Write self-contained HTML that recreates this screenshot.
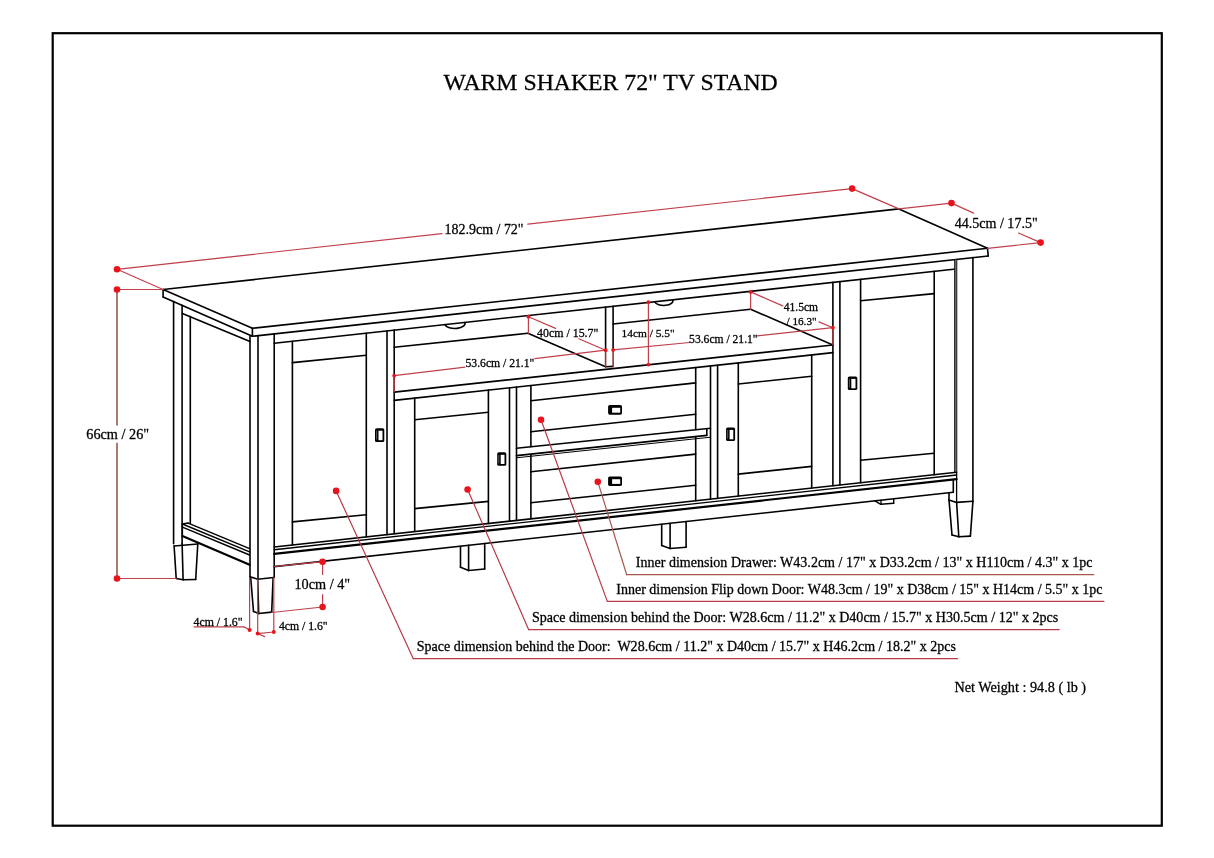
<!DOCTYPE html><html><head><meta charset="utf-8"><style>html,body{margin:0;padding:0;background:#fff;width:1214px;height:858px;overflow:hidden}svg{display:block;will-change:transform}text{font-family:"Liberation Serif",serif;fill:#000;stroke:#000;stroke-width:0.28px;white-space:pre}</style></head><body>
<svg width="1214" height="858" viewBox="0 0 1214 858">
<rect x="0" y="0" width="1214" height="858" fill="#fff"/>
<rect x="52.7" y="33.2" width="1109.1" height="792.5" fill="none" stroke="#000" stroke-width="2.2"/>
<g stroke="#000" stroke-width="1.6" stroke-linecap="round" fill="none">
<line x1="163.1" y1="289.5" x2="898.9" y2="208.9"/>
<line x1="163.1" y1="289.5" x2="252.4" y2="328.3"/>
<line x1="898.9" y1="208.9" x2="987.5" y2="248.3"/>
<line x1="252.4" y1="328.3" x2="987.5" y2="248.3"/>
<line x1="163.1" y1="289.5" x2="163.1" y2="297"/>
<line x1="163.1" y1="297" x2="252.4" y2="336.29"/>
<line x1="252.4" y1="328.3" x2="252.4" y2="336.29"/>
<line x1="252.4" y1="336.29" x2="988.2" y2="255.94"/>
<line x1="987.5" y1="248.3" x2="988.2" y2="255.94"/>
<line x1="173.6" y1="301.6" x2="173.6" y2="543.8"/>
<line x1="182.1" y1="305.4" x2="182.1" y2="543.8"/>
<line x1="182.4" y1="313.4" x2="250" y2="341.6"/>
<line x1="190.3" y1="316.5" x2="190.3" y2="523.2"/>
<line x1="182.4" y1="524" x2="188.2" y2="523.1" stroke-width="1.5"/>
<line x1="188.2" y1="523.1" x2="249.6" y2="548.58" stroke-width="1.5"/>
<line x1="182.4" y1="524" x2="249.6" y2="551.88" stroke-width="1.4"/>
<line x1="182.4" y1="527.1" x2="249.6" y2="554.98" stroke-width="1.4"/>
<line x1="182.4" y1="536.1" x2="249.6" y2="564.8" stroke-width="2.2"/>
<line x1="182.4" y1="524" x2="182.4" y2="536.1" stroke-width="1.4"/>
<line x1="174.1" y1="546" x2="197.8" y2="544"/>
<line x1="174.1" y1="546" x2="176.2" y2="578.5"/>
<line x1="182.1" y1="543.8" x2="183.1" y2="579.5"/>
<line x1="197.8" y1="543.8" x2="195.7" y2="579.5"/>
<line x1="176.2" y1="578.5" x2="183.1" y2="579.8"/>
<line x1="183.1" y1="579.8" x2="195.7" y2="579.5"/>
<line x1="250" y1="336" x2="250" y2="577"/>
<line x1="258" y1="335.5" x2="258" y2="579"/>
<line x1="274.2" y1="334.1" x2="274.2" y2="577.5"/>
<line x1="250" y1="576.7" x2="257.7" y2="579.2"/>
<line x1="257.7" y1="579.2" x2="273.6" y2="577.5"/>
<line x1="250.7" y1="577.8" x2="253.5" y2="611.4"/>
<line x1="257.7" y1="579.2" x2="258.7" y2="613.5"/>
<line x1="273.1" y1="578" x2="271.7" y2="612.1"/>
<line x1="253.5" y1="611.4" x2="258.7" y2="613.5"/>
<line x1="258.7" y1="613.5" x2="271.7" y2="612.1"/>
<line x1="274.2" y1="343.2" x2="955.8" y2="269.04"/>
<line x1="292.4" y1="341.22" x2="292.4" y2="544.94"/>
<line x1="366.3" y1="333.18" x2="366.3" y2="536.85"/>
<line x1="387" y1="330.93" x2="387" y2="534.58"/>
<line x1="394.2" y1="330.14" x2="394.2" y2="533.79"/>
<line x1="292.4" y1="362.6" x2="366.3" y2="355.2"/>
<line x1="292.4" y1="521.9" x2="366.3" y2="514.7"/>
<line x1="394.2" y1="347.2" x2="527.9" y2="333.3"/>
<line x1="527.9" y1="333.3" x2="605.6" y2="366.7"/>
<line x1="605.6" y1="307.14" x2="605.6" y2="350.2"/>
<line x1="613.1" y1="306.33" x2="613.1" y2="349.9"/>
<line x1="605.6" y1="366.8" x2="613.1" y2="366.4"/>
<line x1="613.1" y1="324" x2="750.6" y2="309.2"/>
<line x1="750.6" y1="309.2" x2="832.9" y2="345"/>
<line x1="832.9" y1="282.41" x2="832.9" y2="485.75"/>
<line x1="839.9" y1="281.65" x2="839.9" y2="484.99"/>
<line x1="394.2" y1="392.1" x2="832.9" y2="344.98"/>
<line x1="394.2" y1="400.37" x2="832.9" y2="352.64"/>
<line x1="414.7" y1="398.14" x2="414.7" y2="531.55"/>
<line x1="488.4" y1="390.12" x2="488.4" y2="523.48"/>
<line x1="509.5" y1="387.83" x2="509.5" y2="521.16"/>
<line x1="516.5" y1="387.06" x2="516.5" y2="520.4"/>
<line x1="710.5" y1="365.96" x2="710.5" y2="499.16"/>
<line x1="717.6" y1="365.19" x2="717.6" y2="498.38"/>
<line x1="738.3" y1="362.93" x2="738.3" y2="496.11"/>
<line x1="811.7" y1="354.95" x2="811.7" y2="488.07"/>
<line x1="530.9" y1="385.5" x2="530.9" y2="446.8"/>
<line x1="530.9" y1="455.2" x2="530.9" y2="518.82"/>
<line x1="695.7" y1="367.57" x2="695.7" y2="429.6"/>
<line x1="695.7" y1="437.5" x2="695.7" y2="500.78"/>
<line x1="414.7" y1="419.8" x2="488.4" y2="412.3"/>
<line x1="414.7" y1="508.6" x2="488.4" y2="501.4"/>
<line x1="530.9" y1="400.8" x2="695.7" y2="382.9"/>
<line x1="530.9" y1="431.7" x2="695.7" y2="414.3"/>
<line x1="516.5" y1="448.3" x2="710.5" y2="428.3"/>
<line x1="516.5" y1="455.6" x2="706.8" y2="435.4"/>
<line x1="516.5" y1="457.8" x2="710.5" y2="437.2" stroke-width="1"/>
<line x1="706.8" y1="428.7" x2="706.8" y2="435.4"/>
<line x1="530.9" y1="471.8" x2="695.7" y2="454.1"/>
<line x1="530.9" y1="502.7" x2="695.7" y2="485.2"/>
<line x1="738.3" y1="384" x2="811.7" y2="376.3"/>
<line x1="738.3" y1="474.1" x2="811.7" y2="466.4"/>
<line x1="860.6" y1="279.4" x2="860.6" y2="482.72"/>
<line x1="934.2" y1="271.39" x2="934.2" y2="474.66"/>
<line x1="860.6" y1="300.8" x2="934.2" y2="293.6"/>
<line x1="860.6" y1="460.2" x2="934.2" y2="453.2"/>
<line x1="954.8" y1="259.59" x2="954.8" y2="472.4" stroke-width="1.3"/>
<line x1="956.6" y1="259.39" x2="956.6" y2="502.4" stroke-width="1.3"/>
<rect x="954.8" y="259.59" width="1.8" height="212.82" fill="#666" stroke="none"/>
<line x1="972.9" y1="257.61" x2="972.9" y2="501.4"/>
<line x1="949" y1="492.74" x2="949" y2="500"/>
<line x1="949" y1="500" x2="956.6" y2="502.4"/>
<line x1="956.6" y1="502.4" x2="972.9" y2="501.3"/>
<line x1="949" y1="500" x2="952" y2="534.9"/>
<line x1="956.6" y1="502.4" x2="958.8" y2="536.7"/>
<line x1="972.9" y1="501.5" x2="970.4" y2="536.1"/>
<line x1="952" y1="534.9" x2="958.8" y2="536.7"/>
<line x1="958.8" y1="536.7" x2="970.4" y2="536.1"/>
<line x1="274.2" y1="546.93" x2="956.6" y2="472.21"/>
<line x1="274.2" y1="549.73" x2="956.6" y2="475.01" stroke-width="1.3"/>
<line x1="274.2" y1="553.93" x2="956.6" y2="479.21" stroke-width="2.2"/>
<line x1="274.2" y1="566.63" x2="953.3" y2="492.27"/>
<line x1="953.3" y1="480.07" x2="953.3" y2="492.27"/>
<line x1="460.5" y1="546.23" x2="460.5" y2="567.3"/>
<line x1="468.6" y1="545.34" x2="468.6" y2="570.5"/>
<line x1="484.7" y1="543.58" x2="484.7" y2="569"/>
<line x1="460.5" y1="567.3" x2="468.6" y2="570.5"/>
<line x1="468.6" y1="570.5" x2="484.7" y2="569"/>
<line x1="661.7" y1="524.2" x2="661.7" y2="545.5"/>
<line x1="670.1" y1="523.28" x2="670.1" y2="548.5"/>
<line x1="686.1" y1="521.53" x2="686.1" y2="547.3"/>
<line x1="661.7" y1="545.5" x2="670.1" y2="548.5"/>
<line x1="670.1" y1="548.5" x2="686.1" y2="547.3"/>
<line x1="874.9" y1="500.85" x2="880.8" y2="504.3" stroke-width="1.4"/>
<line x1="880.8" y1="504.3" x2="893.7" y2="503.2" stroke-width="1.4"/>
<line x1="893.7" y1="503.2" x2="893.7" y2="498.79" stroke-width="1.4"/>
<line x1="881" y1="500.19" x2="881" y2="504.2" stroke-width="1.3"/>
<path d="M444.8 324.64 A10 4.8 0 0 0 464.8 322.46"/>
<path d="M654.7 301.8 A9 4.5 0 0 0 672.7 299.84"/>
</g>
<g>
<rect x="608.1" y="405" width="13.9" height="9.7" rx="1.6" fill="#000"/>
<rect x="612.1" y="407.8" width="8.1" height="4.9" fill="#fff"/>
<rect x="608.1" y="476.4" width="13.9" height="9.5" rx="1.6" fill="#000"/>
<rect x="612.1" y="479.2" width="8.1" height="4.7" fill="#fff"/>
<rect x="375" y="428.2" width="9.3" height="13.8" rx="1.6" fill="#000"/>
<rect x="378.5" y="430.7" width="4" height="9.5" fill="#fff"/>
<line x1="376.6" y1="430.7" x2="376.6" y2="439.5" stroke="#999" stroke-width="0.6"/>
<rect x="497.2" y="452.3" width="9.1" height="13.5" rx="1.6" fill="#000"/>
<rect x="500.7" y="454.8" width="3.8" height="9.2" fill="#fff"/>
<line x1="498.8" y1="454.8" x2="498.8" y2="463.3" stroke="#999" stroke-width="0.6"/>
<rect x="726.1" y="427.4" width="9" height="13.7" rx="1.6" fill="#000"/>
<rect x="729.6" y="429.9" width="3.7" height="9.4" fill="#fff"/>
<line x1="727.7" y1="429.9" x2="727.7" y2="438.6" stroke="#999" stroke-width="0.6"/>
<rect x="847.8" y="376.4" width="9.5" height="13.7" rx="1.6" fill="#000"/>
<rect x="851.3" y="378.9" width="4.2" height="9.4" fill="#fff"/>
<line x1="849.4" y1="378.9" x2="849.4" y2="387.6" stroke="#999" stroke-width="0.6"/>
</g>
<g fill="none" stroke-linecap="round">
<line x1="117" y1="269.3" x2="441.9" y2="233.6" stroke="#c0404c" stroke-width="1.2"/>
<line x1="527.8" y1="224.1" x2="852.1" y2="188.6" stroke="#c0404c" stroke-width="1.2"/>
<line x1="117" y1="269.3" x2="163.1" y2="289.5" stroke="#c0404c" stroke-width="1.2"/>
<line x1="117" y1="289.5" x2="163.1" y2="289.5" stroke="#c0404c" stroke-width="1.2"/>
<line x1="117" y1="289.5" x2="117" y2="424.8" stroke="#a87a6e" stroke-width="2"/>
<line x1="117" y1="443.6" x2="117" y2="578.5" stroke="#a87a6e" stroke-width="2"/>
<line x1="117" y1="578.5" x2="176.2" y2="578.5" stroke="#c0404c" stroke-width="1.2"/>
<line x1="852.1" y1="188.6" x2="898.9" y2="208.9" stroke="#c0404c" stroke-width="1.2"/>
<line x1="898.9" y1="208.9" x2="951.5" y2="203.1" stroke="#c0404c" stroke-width="1.2"/>
<line x1="951.5" y1="203.1" x2="973.7" y2="213.1" stroke="#c0404c" stroke-width="1.2"/>
<line x1="1018.5" y1="233" x2="1040.6" y2="242.6" stroke="#c0404c" stroke-width="1.2"/>
<line x1="987.5" y1="248.3" x2="1040.6" y2="242.6" stroke="#c0404c" stroke-width="1.2"/>
<line x1="394.2" y1="375.7" x2="465" y2="367.1" stroke="#c0404c" stroke-width="1.2"/>
<line x1="534.9" y1="358.6" x2="605.6" y2="350.2" stroke="#c0404c" stroke-width="1.2"/>
<line x1="394.2" y1="375.7" x2="394.2" y2="392" stroke="#c0404c" stroke-width="1.2"/>
<line x1="528.4" y1="316.7" x2="528.4" y2="333.3" stroke="#c0404c" stroke-width="1.2"/>
<line x1="528.4" y1="316.7" x2="555.6" y2="328.4" stroke="#c0404c" stroke-width="1.2"/>
<line x1="578.8" y1="338.7" x2="605.6" y2="350.2" stroke="#c0404c" stroke-width="1.2"/>
<line x1="605.6" y1="350.2" x2="605.6" y2="366.6" stroke="#8a3a3a" stroke-width="1.6"/>
<line x1="613.1" y1="349.9" x2="613.1" y2="366.4" stroke="#8a3a3a" stroke-width="1.6"/>
<line x1="648.4" y1="302.2" x2="648.4" y2="364.6" stroke="#c0404c" stroke-width="1.2"/>
<line x1="613.1" y1="349.9" x2="689.7" y2="342.5" stroke="#c0404c" stroke-width="1.2"/>
<line x1="757.2" y1="335.9" x2="832.9" y2="327.7" stroke="#c0404c" stroke-width="1.2"/>
<line x1="750.6" y1="291.9" x2="750.6" y2="309.2" stroke="#c0404c" stroke-width="1.2"/>
<line x1="750.6" y1="291.9" x2="782.7" y2="305.9" stroke="#c0404c" stroke-width="1.2"/>
<line x1="819" y1="321.9" x2="832.9" y2="327.7" stroke="#c0404c" stroke-width="1.2"/>
<line x1="832.9" y1="327.7" x2="832.9" y2="345" stroke="#c0404c" stroke-width="1.2"/>
<line x1="322.6" y1="561.7" x2="322.6" y2="574.5" stroke="#c0404c" stroke-width="1.2"/>
<line x1="322.6" y1="594.6" x2="322.6" y2="607" stroke="#c0404c" stroke-width="1.2"/>
<line x1="274.2" y1="566.5" x2="322.6" y2="561.7" stroke="#c0404c" stroke-width="1.2"/>
<line x1="271.7" y1="612.5" x2="322.6" y2="607" stroke="#c0404c" stroke-width="1.2"/>
<line x1="249.6" y1="577.8" x2="249.6" y2="629.9" stroke="#c0404c" stroke-width="1.2"/>
<line x1="257.7" y1="579.2" x2="257.7" y2="633.6" stroke="#c0404c" stroke-width="1.2"/>
<line x1="273.8" y1="577.5" x2="273.8" y2="632" stroke="#c0404c" stroke-width="1.2"/>
<line x1="257.7" y1="633.6" x2="273.8" y2="632" stroke="#c0404c" stroke-width="1.2"/>
<line x1="258" y1="633.8" x2="264.7" y2="636.6" stroke="#c0404c" stroke-width="1.2"/>
<line x1="249.6" y1="629.9" x2="243.7" y2="626.8" stroke="#c0404c" stroke-width="1.2"/>
<line x1="243.7" y1="626.8" x2="194" y2="626.8" stroke="#c0404c" stroke-width="1.2"/>
<line x1="336.1" y1="490.9" x2="413.2" y2="658.6" stroke="#b83a4a" stroke-width="1.2"/>
<line x1="413.2" y1="658.6" x2="957.6" y2="658.6" stroke="#b83a4a" stroke-width="1.2"/>
<line x1="467.6" y1="489.5" x2="528.7" y2="629.7" stroke="#b83a4a" stroke-width="1.2"/>
<line x1="528.7" y1="629.7" x2="1059.1" y2="629.7" stroke="#b83a4a" stroke-width="1.2"/>
<line x1="541" y1="419.8" x2="607.3" y2="601.4" stroke="#b83a4a" stroke-width="1.2"/>
<line x1="607.3" y1="601.4" x2="1103.9" y2="601.4" stroke="#b83a4a" stroke-width="1.2"/>
<line x1="597.8" y1="481.7" x2="626.7" y2="574.7" stroke="#a8584a" stroke-width="1.2"/>
<line x1="626.7" y1="574.7" x2="1093.8" y2="574.7" stroke="#a8584a" stroke-width="1.2"/>
</g>
<g fill="#e8141c">
<circle cx="117" cy="269.3" r="3.3"/>
<circle cx="117" cy="289.5" r="3.3"/>
<circle cx="117" cy="578.5" r="3.3"/>
<circle cx="852.1" cy="188.6" r="3.3"/>
<circle cx="951.5" cy="203.1" r="3.3"/>
<circle cx="1040.6" cy="242.6" r="3.3"/>
<circle cx="322.6" cy="561.7" r="3.3"/>
<circle cx="322.6" cy="607" r="3.3"/>
<circle cx="336.1" cy="490.9" r="3.3"/>
<circle cx="467.6" cy="489.5" r="3.3"/>
<circle cx="541" cy="419.8" r="3.3"/>
<circle cx="597.8" cy="481.7" r="3.3"/>
<circle cx="249.6" cy="629.9" r="2"/>
<circle cx="257.7" cy="633.6" r="2"/>
<circle cx="273.8" cy="632" r="2"/>
<circle cx="394.2" cy="375.7" r="1.9"/>
<circle cx="528.4" cy="316.7" r="1.9"/>
<circle cx="605.6" cy="350.2" r="1.9"/>
<circle cx="613.1" cy="349.9" r="1.9"/>
<circle cx="648.4" cy="302.2" r="1.9"/>
<circle cx="648.4" cy="364.6" r="1.9"/>
<circle cx="750.6" cy="291.9" r="1.9"/>
<circle cx="832.9" cy="327.7" r="1.9"/>
</g>
<text x="443.6" y="89.7" font-size="23.76">WARM SHAKER 72&quot; TV STAND</text>
<text x="444.6" y="234" font-size="13.96">182.9cm / 72&quot;</text>
<text x="954.7" y="227.6" font-size="14.06">44.5cm / 17.5&quot;</text>
<text x="86.3" y="438.7" font-size="14.25">66cm / 26&quot;</text>
<text x="465.5" y="367.3" font-size="11.67">53.6cm / 21.1&quot;</text>
<text x="537.1" y="337.4" font-size="11.89">40cm / 15.7&quot;</text>
<text x="621.5" y="337.4" font-size="11.4">14cm / 5.5&quot;</text>
<text x="689.1" y="342.5" font-size="11.6">53.6cm / 21.1&quot;</text>
<text x="783.7" y="311.2" font-size="11.57">41.5cm</text>
<text x="786.5" y="324.7" font-size="11.2">/ 16.3&quot;</text>
<text x="294.5" y="589.3" font-size="14.24">10cm / 4&quot;</text>
<text x="193.5" y="625.7" font-size="11.8">4cm / 1.6&quot;</text>
<text x="278.9" y="630.3" font-size="11.72">4cm / 1.6&quot;</text>
<text x="635.8" y="567.2" font-size="14.04">Inner dimension Drawer: W43.2cm / 17&quot; x D33.2cm / 13&quot; x H110cm / 4.3&quot; x 1pc</text>
<text x="616.3" y="593.8" font-size="14.01">Inner dimension Flip down Door: W48.3cm / 19&quot; x D38cm / 15&quot; x H14cm / 5.5&quot; x 1pc</text>
<text x="531.9" y="621.9" font-size="14.05">Space dimension behind the Door: W28.6cm / 11.2&quot; x D40cm / 15.7&quot; x H30.5cm / 12&quot; x 2pcs</text>
<text x="416.8" y="651.2" font-size="14.02">Space dimension behind the Door:  W28.6cm / 11.2&quot; x D40cm / 15.7&quot; x H46.2cm / 18.2&quot; x 2pcs</text>
<text x="954.4" y="692.2" font-size="14.22">Net Weight : 94.8 ( lb )</text>
</svg></body></html>
